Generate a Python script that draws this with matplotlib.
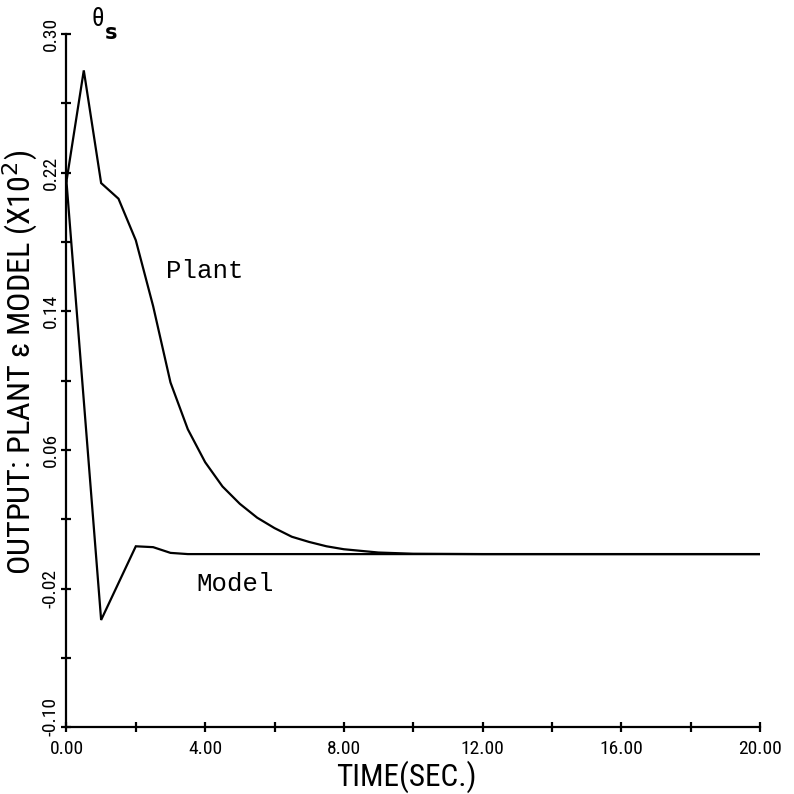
import matplotlib
matplotlib.use("Agg")
import matplotlib.pyplot as plt
from matplotlib import font_manager
from matplotlib.transforms import ScaledTranslation

# Time response of plant and reference model (theta_s)
plant_t = [0.0, 0.5, 1.0, 1.5, 2.0, 2.5, 3.0, 3.5, 4.0, 4.5, 5.0, 5.5, 6.0,
           6.5, 7.0, 7.5, 8.0, 9.0, 10.0, 12.0, 16.0, 20.0]
plant_y = [0.215, 0.279, 0.214, 0.205, 0.181, 0.143, 0.099, 0.072, 0.053,
           0.039, 0.029, 0.021, 0.015, 0.010, 0.007, 0.0045, 0.0028, 0.0009,
           0.0002, 0.0, 0.0, 0.0]

model_t = [0.0, 1.0, 2.0, 2.5, 3.0, 3.5, 4.0, 8.0, 12.0, 16.0, 20.0]
model_y = [0.215, -0.038, 0.0045, 0.004, 0.0007, 0.0, 0.0, 0.0, 0.0, 0.0, 0.0]

x_major = [0.0, 4.0, 8.0, 12.0, 16.0, 20.0]
x_minor = [2.0, 6.0, 10.0, 14.0, 18.0]
x_labels = ["0.00", "4.00", "8.00", "12.00", "16.00", "20.00"]
y_major = [-0.10, -0.02, 0.06, 0.14, 0.22, 0.30]
y_minor = [-0.06, 0.02, 0.10, 0.18, 0.26]
y_labels = ["-0.10", "-0.02", "0.06", "0.14", "0.22", "0.30"]


def first_font(candidates, fallback):
    names = {f.name for f in font_manager.fontManager.ttflist}
    for c in candidates:
        if c in names:
            return c
    return fallback


narrow = first_font(["Liberation Sans Narrow", "Roboto Condensed",
                     "DejaVu Sans Condensed", "Open Sans Condensed"], "DejaVu Sans")
mono = first_font(["Liberation Mono", "DejaVu Sans Mono"], "monospace")

fig = plt.figure(figsize=(7.94, 7.94), dpi=100)
ax = fig.add_axes([0.0837, 0.0838, 0.8734, 0.8734])

ax.plot(plant_t, plant_y, color="black", lw=1.6, solid_joinstyle="miter")
ax.plot(model_t, model_y, color="black", lw=1.6, solid_joinstyle="miter")

ax.set_xlim(0, 20)
ax.set_ylim(-0.10, 0.30)

for s in ("top", "right"):
    ax.spines[s].set_visible(False)
for s in ("left", "bottom"):
    ax.spines[s].set_linewidth(1.6)

tick_size = 14
ax.set_xticks(x_major)
ax.set_xticks(x_minor, minor=True)
ax.set_xticklabels(x_labels, family=narrow, fontsize=tick_size)
ax.set_yticks(y_major)
ax.set_yticks(y_minor, minor=True)
ax.set_yticklabels(y_labels, family=narrow, fontsize=tick_size, rotation=90, va="center")

ax.tick_params(which="both", direction="inout", length=6.5, width=1.6, color="black")
ax.tick_params(axis="x", which="major", pad=6)
ax.tick_params(axis="y", which="major", pad=1.5)

# lift the lowest y label clear of the first x label
low = ax.yaxis.get_major_ticks()[0].label1
low.set_transform(low.get_transform() + ScaledTranslation(0, 8 / 72, fig.dpi_scale_trans))

xlab = ax.set_xlabel("TIME(SEC.)", family=narrow, fontsize=22.5, va="top")
ylab = ax.set_ylabel("OUTPUT: PLANT \u03b5 MODEL (X10$^2$)", family=[narrow, "DejaVu Sans"],
                     fontsize=20)
ax.xaxis.set_label_coords(0.49, -0.048)
ax.yaxis.set_label_coords(-0.038, 0.527)

# size the vertical axis title to its drawn length
fig.canvas.draw()
renderer = fig.canvas.get_renderer()
bb = ylab.get_window_extent(renderer)
ylab.set_fontsize(ylab.get_fontsize() * 425.0 / bb.height)

ax.text(0.9, 0.3015, "\u03b8", family=narrow, fontsize=18, ha="center", va="bottom",
        clip_on=False)
ax.text(1.3, 0.3005, "s", family="DejaVu Sans", fontsize=15, fontweight="bold",
        ha="center", va="center", clip_on=False)

ax.text(2.88, 0.159, "Plant", family=mono, fontsize=18.5, ha="left", va="baseline")
ax.text(3.75, -0.021, "Model", family=mono, fontsize=18.5, ha="left", va="baseline")

fig.savefig("out.png", dpi=100)
